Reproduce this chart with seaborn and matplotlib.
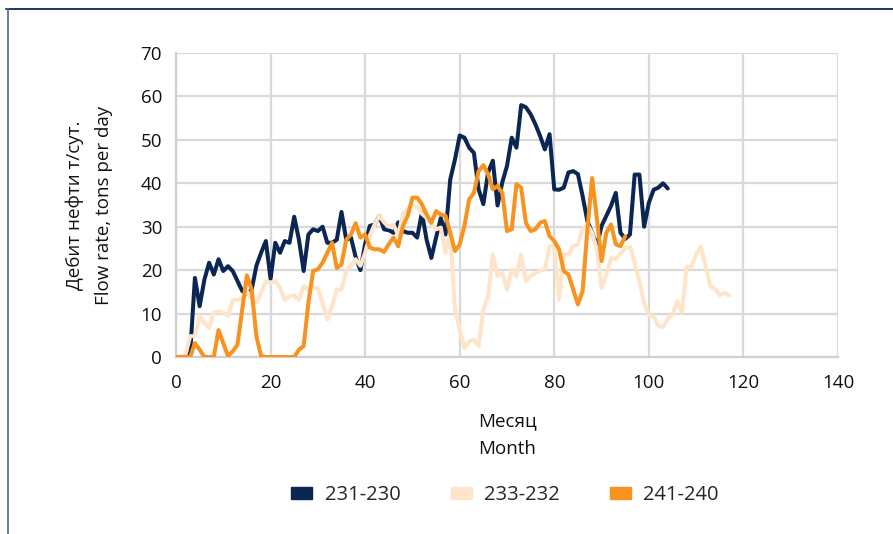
import numpy as np
import pandas as pd
import seaborn as sns
import matplotlib
matplotlib.use("Agg")
import matplotlib.pyplot as plt
from matplotlib.patches import Patch
from matplotlib.lines import Line2D

# Monthly oil flow rate per well pair, t/day (month index starts at 0)
rate_231_230 = [
    0, 0, 0, 1, 18.2, 11.7, 17.8, 21.7, 19.0, 22.5,
    19.8, 20.9, 19.8, 17.5, 15.2, 14.6, 15.5, 21.0, 24.0, 26.7,
    18.0, 26.3, 24.0, 26.7, 26.3, 32.3, 27.0, 19.8, 28.2, 29.4,
    29.0, 30.0, 26.3, 26.3, 27.0, 33.4, 27.0, 27.5, 23.0, 20.0,
    26.0, 30.2, 30.5, 32.5, 29.4, 29.2, 28.6, 31.0, 29.0, 28.6,
    28.6, 27.5, 33.2, 27.0, 22.8, 27.5, 32.0, 28.2, 40.9, 45.5,
    51.0, 50.5, 48.2, 47.0, 38.6, 35.2, 42.5, 45.2, 34.9, 40.2,
    44.0, 50.5, 48.2, 58.0, 57.5, 55.9, 53.6, 50.9, 47.8, 51.3,
    38.6, 38.5, 39.0, 42.5, 42.8, 42.1, 37.0, 31.3, 28.6, 25.5,
    30.2, 32.5, 34.8, 37.8, 28.6, 27.2, 28.2, 42.0, 42.0, 30.0,
    35.5, 38.5, 39.0, 40.0, 38.8,
]
rate_233_232 = [
    0, 0, 0.5, 4.8, 4.8, 9.4, 7.8, 6.7, 10.2, 10.5,
    10.2, 9.5, 13.1, 13.1, 13.6, 15.2, 13.2, 12.5, 14.8, 17.5,
    17.1, 17.5, 16.0, 13.1, 14.0, 14.2, 13.2, 16.3, 15.5, 16.0,
    15.7, 12.5, 8.6, 11.7, 15.5, 15.5, 19.8, 21.0, 22.5, 21.0,
    24.0, 28.0, 30.5, 32.5, 31.0, 30.0, 30.5, 28.0, 33.0, 34.0,
    35.2, 34.5, 33.0, 32.0, 30.5, 29.4, 29.8, 24.0, 28.6, 11.0,
    6.3, 2.0, 3.6, 4.0, 2.5, 10.9, 14.0, 23.6, 18.6, 19.4,
    15.5, 20.2, 18.6, 23.6, 17.5, 18.6, 19.4, 19.8, 20.2, 25.5,
    25.2, 13.2, 23.6, 23.6, 25.5, 25.9, 29.4, 30.5, 28.6, 24.8,
    15.9, 19.0, 22.8, 22.5, 23.8, 25.0, 25.4, 21.7, 17.5, 12.5,
    9.5, 9.4, 7.2, 6.9, 8.8, 9.8, 12.8, 10.2, 20.8, 20.8,
    23.6, 25.4, 20.9, 16.3, 15.7, 14.2, 14.8, 14.2,
]
rate_241_240 = [
    0, 0, 0, 0, 3.2, 1.7, 0, 0, 0, 6.2,
    3.2, 0.2, 1.3, 2.8, 10.9, 18.8, 15.5, 4.8, 0.2, 0,
    0, 0, 0, 0, 0, 0, 1.7, 2.5, 12.5, 19.8,
    20.2, 21.7, 24.0, 26.3, 20.5, 21.3, 27.0, 28.2, 30.8, 27.5,
    28.2, 25.2, 24.8, 24.8, 24.2, 26.0, 27.5, 25.5, 30.2, 32.5,
    36.7, 36.7, 35.2, 32.8, 30.9, 33.6, 32.8, 32.5, 28.6, 24.4,
    25.9, 30.2, 36.3, 37.8, 42.8, 44.2, 42.1, 38.6, 39.4, 37.8,
    29.0, 29.4, 39.8, 39.0, 30.9, 29.0, 29.4, 30.9, 31.3, 27.8,
    26.7, 24.8, 19.8, 19.0, 15.5, 12.1, 15.2, 29.4, 41.2, 32.0,
    22.1, 28.6, 30.5, 26.0, 25.5, 27.8,
]

series_names = ["231-230", "233-232", "241-240"]
series_values = [rate_231_230, rate_233_232, rate_241_240]
series_colors = ["#0B2652", "#FEE4C9", "#F7931E"]

x_ticks = [0, 20, 40, 60, 80, 100, 120, 140]
y_ticks = [0, 10, 20, 30, 40, 50, 60, 70]

frames = []
for name, vals in zip(series_names, series_values):
    frames.append(pd.DataFrame({"month": np.arange(len(vals)),
                                "rate": vals, "pair": name}))
df = pd.concat(frames, ignore_index=True)

sns.set_theme(style="white")
plt.rcParams["font.family"] = ["Open Sans", "DejaVu Sans"]

FS = 13.5
TXT = "#111111"

fig = plt.figure(figsize=(8.93, 5.34), dpi=100)
ax = fig.add_axes([176 / 893, 1 - 357 / 534, (838 - 176) / 893, (357 - 53) / 534])

sns.lineplot(data=df, x="month", y="rate", hue="pair",
             hue_order=series_names, palette=series_colors,
             linewidth=2.9, legend=False, ax=ax, zorder=3)

ax.set_xlim(0, 140)
ax.set_ylim(0, 70)
ax.set_xticks(x_ticks)
ax.set_yticks(y_ticks)
ax.grid(True, color="#D9D9D9", linewidth=1.6, zorder=0)
ax.set_axisbelow(True)
for side in ["top", "right"]:
    ax.spines[side].set_visible(False)
for side in ["left", "bottom"]:
    ax.spines[side].set_color("#D0D0D0")
    ax.spines[side].set_linewidth(1.6)
ax.tick_params(axis="both", length=0, labelsize=FS, colors=TXT)
ax.tick_params(axis="x", pad=12)
ax.tick_params(axis="y", pad=10)

ax.set_xlabel("Месяц\nMonth", fontsize=FS, color=TXT, labelpad=15,
              linespacing=1.7)
ax.set_ylabel("Дебит нефти т/сут.\nFlow rate, tons per day", fontsize=FS,
              color=TXT, labelpad=20, linespacing=1.75)

handles = [Patch(facecolor=c, edgecolor=c) for c in series_colors]
fig.legend(handles, series_names, loc="center", bbox_to_anchor=(505 / 893, 1 - 495 / 534),
           ncol=3, frameon=False, fontsize=14.5, handlelength=1.05, handleheight=0.5,
           handletextpad=0.6, columnspacing=2.5)

# outer frame
fig.add_artist(Line2D([6 / 893, 1], [1 - 9 / 534, 1 - 9 / 534], color="#0B2652",
                      linewidth=1.3, transform=fig.transFigure))
fig.add_artist(Line2D([8 / 893, 8 / 893], [0, 1 - 9 / 534], color="#5A7399",
                      linewidth=1.3, transform=fig.transFigure))

fig.savefig("out.png", dpi=100)
